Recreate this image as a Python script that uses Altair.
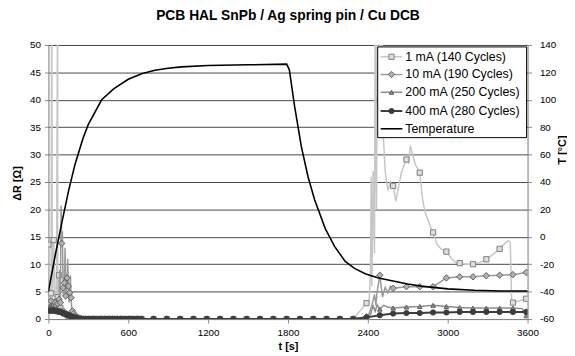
import altair as alt
import pandas as pd

# ---------------- data ----------------
series_names = ["1 mA (140 Cycles)", "10 mA (190 Cycles)",
                "200 mA (250 Cycles)", "400 mA (280 Cycles)"]

t_early = [0, 10, 20, 30, 40, 50, 60, 70, 80, 90, 100, 110, 120, 130, 140,
           150, 160, 170, 180, 190, 200, 210, 220, 230, 240, 250]
t_mid = [260, 280, 300, 320, 340, 360, 380, 400, 420, 440, 460, 480, 500,
         520, 540, 560, 580, 600, 620, 640, 660, 680, 700]
t_late = [790, 890, 990, 1090, 1190, 1290, 1390, 1490, 1590, 1690, 1790,
          1890, 1990, 2090, 2190, 2290, 2390, 2490, 2590, 2690, 2790, 2890,
          2990, 3090, 3190, 3290, 3390, 3490, 3590]

mid_zero = [0.0, 0.0, 0.0, 0.0, 0.0, 0.0, 0.0, 0.0, 0.0, 0.0, 0.0, 0.0,
            0.0, 0.0, 0.0, 0.0, 0.0, 0.0, 0.0, 0.0, 0.0, 0.0, 0.0]

# 1 mA
r1_early = [13.6, 2.0, 4.7, 3.0, 14.4, 2.5, 3.0, 4.0, 8.0, 2.0, 1.5, 1.2, 1.0,
            0.9, 0.8, 0.6, 0.5, 0.4, 0.3, 0.3, 0.2, 0.1, 0.1, 0.05, 0.0, 0.0]
r1_late = [0, 0, 0, 0, 0, 0, 0, 0, 0, 0, 0, 0, 0, 0, 0, 0,
           2.9, 40.0, 24.3, 29.1, 26.7, 15.8, 12.3, 10.2, 10.0, 10.9, 12.8, 3.0, 3.7]
r1_noise_t = [25, 69, 75, 2410, 2420, 2425, 2430, 2440, 2450, 2455, 2465, 2472,
              2480, 2505, 2515, 2530, 2550, 2570, 2610, 2630, 2650, 2670, 2705,
              2720, 2740, 2760, 2810, 2830, 2860, 2920, 2950, 3030, 3060, 3130,
              3240, 3340, 3430, 3455, 3470, 3480]
r1_noise_v = [60, 60, 6.0, 3.5, 9.0, 26.0, 6.0, 27.0, 12.0, 60, 20.0, 60,
              60, 60, 34.0, 27.0, 23.5, 25.0, 21.5, 24.0, 26.5, 28.0, 28.5,
              31.6, 29.5, 28.0, 22.0, 19.5, 17.5, 13.6, 12.8, 11.0, 10.3, 10.0,
              10.3, 11.8, 13.8, 14.3, 14.0, 3.5]

# 10 mA
r10_early = [3.0, 2.0, 3.3, 2.2, 2.4, 3.0, 2.5, 2.8, 3.6, 3.0, 13.8, 5.7, 6.6,
             4.2, 7.5, 6.0, 4.8, 3.9, 1.5, 1.0, 0.6, 0.4, 0.3, 0.2, 0.1, 0.0]
r10_late = [0, 0, 0, 0, 0, 0, 0, 0, 0, 0, 0, 0, 0, 0, 0, 0,
            0.4, 8.0, 5.6, 5.9, 5.9, 5.9, 7.5, 7.7, 7.7, 7.9, 8.0, 8.1, 8.5]
r10_noise_t = [85, 95, 105, 115, 125, 135, 145, 155, 165, 175,
               2410, 2430, 2450, 2460, 2470, 2510, 2530, 2550, 2570]
r10_noise_v = [9.0, 20.7, 16.0, 4.0, 13.0, 5.0, 11.0, 3.0, 8.0, 2.0,
               1.0, 2.5, 4.5, 2.5, 5.0, 4.0, 5.8, 4.8, 6.0]

# 200 mA
r200_early = [2.0, 1.8, 2.2, 1.9, 2.0, 1.8, 1.9, 1.7, 1.6, 1.5, 1.4, 1.3, 1.2,
              1.1, 1.0, 0.9, 0.8, 0.6, 0.5, 0.4, 0.3, 0.2, 0.15, 0.1, 0.05, 0.0]
r200_late = [0, 0, 0, 0, 0, 0, 0, 0, 0, 0, 0, 0, 0, 0, 0, 0,
             0.3, 1.8, 2.0, 2.2, 2.3, 2.5, 2.3, 2.1, 2.0, 2.0, 2.0, 2.0, 0.6]
r200_noise_t = [2420, 2440, 2455, 2470, 2520, 2550, 3560]
r200_noise_v = [0.8, 2.4, 1.4, 2.6, 2.5, 2.2, 1.9]

# 400 mA
r400_early = [1.5, 1.6, 1.5, 1.6, 1.5, 1.5, 1.4, 1.4, 1.3, 1.3, 1.2, 1.1, 1.0,
              0.9, 0.8, 0.7, 0.6, 0.5, 0.4, 0.3, 0.25, 0.2, 0.1, 0.05, 0.02, 0.0]
r400_late = [0, 0, 0, 0, 0, 0, 0, 0, 0, 0, 0, 0, 0, 0, 0, 0,
             0.3, 0.7, 1.0, 1.1, 1.1, 1.2, 1.2, 1.3, 1.3, 1.3, 1.3, 1.3, 1.3]
r400_noise_t = []
r400_noise_v = []

# Temperature (right axis)
temp_t = [0, 50, 100, 150, 200, 260, 300, 400, 490, 600, 700, 800, 900, 1000,
          1200, 1500, 1790, 1810, 1850, 1900, 1950, 2000, 2080, 2150, 2230,
          2300, 2380, 2480, 2580, 2700, 2800, 3000, 3200, 3400, 3600]
temp_v = [-40, -14, 10, 33, 53, 72, 82, 100, 108, 115, 119, 121.5, 123, 124,
          125, 125.5, 126, 122, 95, 66, 44, 27, 6, -7, -18, -23, -27, -30, -32,
          -34.5, -36, -38, -39, -39.5, -39.5]

x_ticks = [0, 600, 1200, 1800, 2400, 3000, 3600]
y_left_ticks = [0, 5, 10, 15, 20, 25, 30, 35, 40, 45, 50]
y_right_ticks = [-60, -40, -20, 0, 20, 40, 60, 80, 100, 120, 140]

# ---------------- styles ----------------
FONT = "Liberation Sans"
styles = [
    dict(line="#c6c6c6", lw=1.5, shape="square", size=28, fill="#dedede", stroke="#7f7f7f"),
    dict(line="#9a9a9a", lw=1.5, shape="diamond", size=42, fill="#b0b0b0", stroke="#606060"),
    dict(line="#8c8c8c", lw=1.5, shape="triangle-up", size=22, fill="#8a8a8a", stroke="#606060"),
    dict(line="#3c3c3c", lw=2.0, shape="circle", size=28, fill="#3c3c3c", stroke="#3c3c3c"),
]

raw = [
    (r1_early, r1_late, r1_noise_t, r1_noise_v),
    (r10_early, r10_late, r10_noise_t, r10_noise_v),
    (r200_early, r200_late, r200_noise_t, r200_noise_v),
    (r400_early, r400_late, r400_noise_t, r400_noise_v),
]

x_enc = alt.X("t:Q", scale=alt.Scale(domain=[0, 3600], nice=False),
              axis=alt.Axis(values=x_ticks, format="d", title="t [s]", grid=False,
                            tickSize=4, labelPadding=5, titleY=28,
                            titleBaseline="middle", labelFlush=False))
y_enc = alt.Y("v:Q", scale=alt.Scale(domain=[0, 50], nice=False),
              axis=alt.Axis(orient="left", values=y_left_ticks, title="ΔR [Ω]",
                            grid=True, gridColor="#474747", gridWidth=1,
                            tickSize=4, labelPadding=4, titleX=-31, titleY=140,
                            titleAngle=270, titleAlign="center",
                            titleBaseline="middle"))

res_layers = []
for name, (early, late, nt, nv), st in zip(series_names, raw, styles):
    mt = t_early + t_mid + t_late
    mv = early + mid_zero + late
    dm = pd.DataFrame({"t": mt, "v": mv})
    dl = pd.concat([dm, pd.DataFrame({"t": nt, "v": nv})]).sort_values("t")
    res_layers.append(
        alt.Chart(dl).mark_line(color=st["line"], strokeWidth=st["lw"], clip=True)
        .encode(x=x_enc, y=y_enc, order="t:Q"))
    res_layers.append(
        alt.Chart(dm).mark_point(shape=st["shape"], size=st["size"], filled=True,
                                 fill=st["fill"], stroke=st["stroke"],
                                 strokeWidth=1, opacity=1, clip=True)
        .encode(x=x_enc, y=y_enc))

resist = alt.layer(*res_layers)

temp = alt.Chart(pd.DataFrame({"t": temp_t, "T": temp_v})).mark_line(
    color="black", strokeWidth=1.6, clip=True).encode(
    x=x_enc,
    y=alt.Y("T:Q", scale=alt.Scale(domain=[-60, 140], nice=False),
            axis=alt.Axis(orient="right", values=y_right_ticks, title="T [°C]",
                          labelExpr="'' + datum.value",
                          grid=False, tickSize=4, labelPadding=8,
                          titleX=35, titleY=106, titleAngle=270,
                          titleAlign="center", titleBaseline="middle")),
    order="t:Q")

# ---------------- legend ----------------
LX0, LX1, LY0, LY1 = 334, 485, 2, 94
row_y = [12, 30, 48, 67, 85]
one = pd.DataFrame({"k": [1]})
legend_layers = [
    alt.Chart(one).mark_rect(fill="white", stroke="black", strokeWidth=1)
    .encode(x=alt.value(LX0), x2=alt.value(LX1), y=alt.value(LY0), y2=alt.value(LY1))
]
for i, (name, st) in enumerate(zip(series_names, styles)):
    ly = row_y[i]
    legend_layers.append(
        alt.Chart(one).mark_rule(color=st["line"], strokeWidth=st["lw"])
        .encode(x=alt.value(337), x2=alt.value(359), y=alt.value(ly)))
    legend_layers.append(
        alt.Chart(one).mark_point(shape=st["shape"], size=st["size"], filled=True,
                                  fill=st["fill"], stroke=st["stroke"],
                                  strokeWidth=1, opacity=1)
        .encode(x=alt.value(348), y=alt.value(ly)))
    legend_layers.append(
        alt.Chart(pd.DataFrame({"label": [name]})).mark_text(
            align="left", baseline="middle", font=FONT, fontSize=12.5, color="black")
        .encode(x=alt.value(362), y=alt.value(ly), text="label:N"))
legend_layers.append(
    alt.Chart(one).mark_rule(color="black", strokeWidth=1.6)
    .encode(x=alt.value(337), x2=alt.value(359), y=alt.value(row_y[4])))
legend_layers.append(
    alt.Chart(pd.DataFrame({"label": ["Temperature"]})).mark_text(
        align="left", baseline="middle", font=FONT, fontSize=12.5, color="black")
    .encode(x=alt.value(362), y=alt.value(row_y[4]), text="label:N"))

chart = alt.layer(resist, temp, *legend_layers).resolve_scale(
    y="independent"
).properties(
    width=486, height=278,
    autosize=alt.AutoSizeParams(type="none"),
    padding={"left": 41, "top": 35, "right": 40, "bottom": 35},
    title=alt.TitleParams("PCB HAL SnPb / Ag spring pin / Cu DCB", font=FONT,
                          fontSize=14, fontWeight="bold", color="black",
                          anchor="middle", offset=17),
).configure_view(stroke=None).configure_axis(
    labelFont=FONT, labelFontSize=12, labelColor="black",
    titleFont=FONT, titleFontSize=12, titleFontWeight="bold", titleColor="black",
    domainColor="black", tickColor="black", domainWidth=1, tickWidth=1,
).configure(background="white")

chart.save("out.html", embed_options={"renderer": "svg", "actions": False})
